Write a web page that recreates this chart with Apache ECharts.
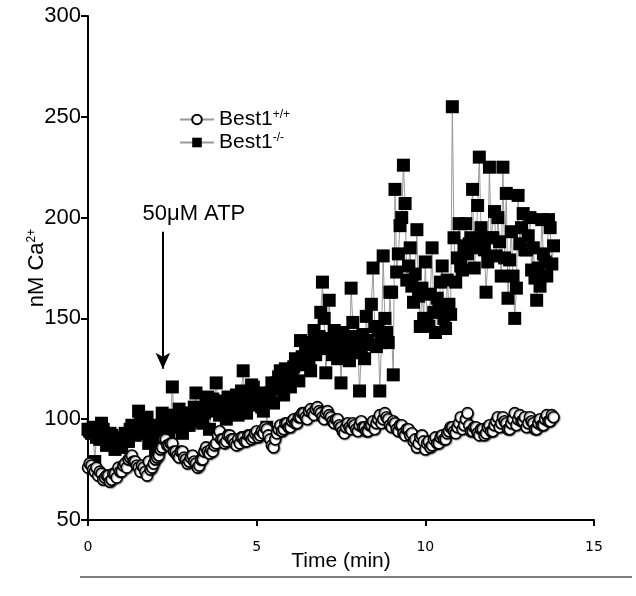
<!DOCTYPE html>
<html>
<head>
<meta charset="utf-8">
<script src="https://cdn.jsdelivr.net/npm/echarts@6/dist/echarts.min.js"></script>
<style>
html,body{margin:0;padding:0;background:#fff;}
#c{width:636px;height:596px;}
</style>
</head>
<body>
<div id="c"></div>
<script>
// Time (min), one sample every 0.05 min
const timeMin = [
0.00,0.05,0.10,0.15,0.20,0.25,0.30,0.35,0.40,0.45,0.50,0.55,0.60,0.65,0.70,0.75,0.80,0.85,0.90,0.95,
1.00,1.05,1.10,1.15,1.20,1.25,1.30,1.35,1.40,1.45,1.50,1.55,1.60,1.65,1.70,1.75,1.80,1.85,1.90,1.95,
2.00,2.05,2.10,2.15,2.20,2.25,2.30,2.35,2.40,2.45,2.50,2.55,2.60,2.65,2.70,2.75,2.80,2.85,2.90,2.95,
3.00,3.05,3.10,3.15,3.20,3.25,3.30,3.35,3.40,3.45,3.50,3.55,3.60,3.65,3.70,3.75,3.80,3.85,3.90,3.95,
4.00,4.05,4.10,4.15,4.20,4.25,4.30,4.35,4.40,4.45,4.50,4.55,4.60,4.65,4.70,4.75,4.80,4.85,4.90,4.95,
5.00,5.05,5.10,5.15,5.20,5.25,5.30,5.35,5.40,5.45,5.50,5.55,5.60,5.65,5.70,5.75,5.80,5.85,5.90,5.95,
6.00,6.05,6.10,6.15,6.20,6.25,6.30,6.35,6.40,6.45,6.50,6.55,6.60,6.65,6.70,6.75,6.80,6.85,6.90,6.95,
7.00,7.05,7.10,7.15,7.20,7.25,7.30,7.35,7.40,7.45,7.50,7.55,7.60,7.65,7.70,7.75,7.80,7.85,7.90,7.95,
8.00,8.05,8.10,8.15,8.20,8.25,8.30,8.35,8.40,8.45,8.50,8.55,8.60,8.65,8.70,8.75,8.80,8.85,8.90,8.95,
9.00,9.05,9.10,9.15,9.20,9.25,9.30,9.35,9.40,9.45,9.50,9.55,9.60,9.65,9.70,9.75,9.80,9.85,9.90,9.95,
10.00,10.05,10.10,10.15,10.20,10.25,10.30,10.35,10.40,10.45,10.50,10.55,10.60,10.65,10.70,10.75,10.80,10.85,10.90,10.95,
11.00,11.05,11.10,11.15,11.20,11.25,11.30,11.35,11.40,11.45,11.50,11.55,11.60,11.65,11.70,11.75,11.80,11.85,11.90,11.95,
12.00,12.05,12.10,12.15,12.20,12.25,12.30,12.35,12.40,12.45,12.50,12.55,12.60,12.65,12.70,12.75,12.80,12.85,12.90,12.95,
13.00,13.05,13.10,13.15,13.20,13.25,13.30,13.35,13.40,13.45,13.50,13.55,13.60,13.65,13.70,13.75,13.80
];

// Best1+/+ (open circles), nM Ca2+
const best1WT = [
76,78,77,75,74,76,72,74,73,70,71,72,72,69,70,73,73,71,76,74,
74,77,78,76,80,81,82,79,79,77,76,74,77,76,74,72,79,75,76,78,
80,81,82,85,86,90,90,87,87,88,88,84,84,82,81,84,84,81,80,78,
79,81,82,79,78,76,77,80,80,84,86,84,83,85,84,87,88,92,94,90,
90,88,89,92,92,90,90,88,87,90,88,91,91,89,89,92,92,90,91,93,
94,91,92,94,93,96,95,92,90,87,86,90,93,95,97,94,95,98,98,96,
96,99,100,98,98,101,101,103,103,101,100,104,105,103,102,105,106,104,103,101,
100,103,104,102,101,99,98,100,100,97,96,94,93,96,98,96,95,98,97,95,
94,97,99,96,96,94,94,97,97,99,95,98,100,102,98,100,103,101,100,97,
96,99,98,95,94,97,97,93,92,95,95,92,93,89,90,86,88,91,92,89,
85,88,89,86,87,90,91,88,88,91,92,90,90,93,94,96,96,94,93,96,
98,101,95,97,100,103,97,94,94,96,96,93,92,95,95,92,93,96,97,94,
94,97,99,101,96,98,101,99,98,95,95,98,100,103,97,100,102,99,99,101,
96,98,101,99,98,95,95,98,100,97,97,100,102,99,99,102,101
];

// Best1-/- (filled squares), nM Ca2+
const best1KO = [
95,94,93,96,79,91,94,90,98,95,90,87,88,93,92,89,85,88,90,86,
87,91,93,89,89,95,97,93,92,96,104,99,95,93,99,101,88,94,92,97,
84,88,90,95,103,97,95,91,92,100,116,102,98,96,105,100,93,99,103,97,
97,103,100,106,113,101,104,99,98,103,107,111,95,104,110,106,118,109,102,107,
108,103,100,111,109,106,104,108,112,102,106,114,124,110,103,108,110,117,116,109,
107,113,112,106,104,110,96,111,113,118,108,115,118,121,124,116,112,125,120,118,
116,122,126,130,128,119,139,131,127,135,133,128,124,138,144,132,136,141,153,168,
150,123,135,159,140,132,144,137,130,140,118,143,134,138,136,129,165,148,141,133,
137,114,133,142,130,151,139,137,157,175,146,136,144,114,138,181,150,143,138,163,
163,122,214,173,182,196,200,226,207,169,176,185,166,158,172,194,161,146,165,150,
178,150,146,162,185,153,143,160,154,168,176,150,145,169,157,152,255,190,168,180,
197,176,174,186,197,182,187,190,214,175,185,206,230,195,190,184,163,178,225,190,
190,203,181,200,188,171,225,180,212,160,179,193,171,150,165,211,187,195,202,184,
184,191,200,174,185,170,159,175,166,199,182,178,171,199,195,177,186
];

const yTicks = [50,100,150,200,250,300];
const xTicks = [0,5,10,15];
const seriesNames = ['Best1+/+','Best1-/-'];
const annotationText = '50μM ATP';
const atpTime = 2.22;
const arrowFrom = 193;
const arrowTo = 125;

const chart = echarts.init(document.getElementById('c'));

const pair = (xs, ys) => ys.map((v, i) => [xs[i], v]);

chart.setOption({
  animation: false,
  backgroundColor: '#fff',
  grid: {left: 88, right: 42, top: 16, bottom: 76},
  legend: {
    left: 174, top: 104, orient: 'vertical', itemWidth: 34, itemHeight: 12, itemGap: 2,
    data: seriesNames,
    formatter: n => n === seriesNames[0] ? '{b|Best1}{s|+/+}' : '{b|Best1}{s|-/-}',
    textStyle: {
      color: '#000', fontSize: 21,
      rich: {
        b: {fontFamily: 'Liberation Sans', fontSize: 21, color: '#000'},
        s: {fontFamily: 'Liberation Sans', fontSize: 12, color: '#000', verticalAlign: 'top', padding: [0,0,9,0]}
      }
    }
  },
  xAxis: {
    type: 'value', min: 0, max: 15, interval: 5,
    name: 'Time (min)', nameLocation: 'middle', nameGap: 31, nameMoveOverlap: false,
    nameTextStyle: {fontFamily: 'Liberation Sans', fontSize: 21, color: '#000'},
    axisLine: {show: true, lineStyle: {color: '#000', width: 2}},
    axisTick: {show: true, inside: false, length: 6, lineStyle: {width: 2, color: '#000'}},
    axisLabel: {fontFamily: 'DejaVu Sans', fontSize: 14, color: '#000', margin: 20,
      formatter: v => xTicks.includes(v) ? String(v) : ''},
    splitLine: {show: false}
  },
  yAxis: {
    type: 'value', min: 50, max: 300, interval: 50,
    name: '{a|nM Ca}{s|2+}', nameLocation: 'middle', nameGap: 40, nameMoveOverlap: false,
    nameTextStyle: {
      fontFamily: 'Liberation Sans', fontSize: 22, color: '#000',
      rich: {
        a: {fontFamily: 'Liberation Sans', fontSize: 22, color: '#000'},
        s: {fontFamily: 'Liberation Sans', fontSize: 12, color: '#000', verticalAlign: 'top', padding: [0,0,9,0]}
      }
    },
    axisLine: {show: true, lineStyle: {color: '#000', width: 2}},
    axisTick: {show: true, inside: false, length: 7, lineStyle: {width: 2, color: '#000'}},
    axisLabel: {fontFamily: 'Liberation Sans', fontSize: 22, color: '#000', margin: 7,
      formatter: v => yTicks.includes(v) ? String(v) : ''},
    splitLine: {show: false}
  },
  series: [
    {
      name: seriesNames[1], type: 'line', z: 2,
      data: pair(timeMin, best1KO),
      symbol: 'rect', symbolSize: 13,
      itemStyle: {color: '#000', borderColor: '#111', borderWidth: 0},
      lineStyle: {color: '#999', width: 1},
      markLine: {
        silent: true, symbol: ['none', 'arrow'], symbolSize: [11, 16],
        lineStyle: {color: '#000', width: 2, type: 'solid'},
        label: {show: true, position: 'start', formatter: annotationText,
          fontFamily: 'Liberation Sans', fontSize: 22, color: '#000', offset: [31, -2]},
        data: [[{coord: [atpTime, arrowFrom]}, {coord: [atpTime, arrowTo]}]]
      }
    },
    {
      name: seriesNames[0], type: 'line', z: 3,
      data: pair(timeMin, best1WT),
      symbol: 'circle', symbolSize: 11,
      itemStyle: {color: '#fff', borderColor: '#000', borderWidth: 1.6,
        shadowColor: 'rgba(0,0,0,0.35)', shadowBlur: 1, shadowOffsetX: 1, shadowOffsetY: 1},
      lineStyle: {color: '#999', width: 1}
    }
  ],
  graphic: [
    {type: 'line', shape: {x1: 80, y1: 577, x2: 632, y2: 577}, style: {stroke: '#555', lineWidth: 1.5}}
  ]
});
</script>
</body>
</html>
